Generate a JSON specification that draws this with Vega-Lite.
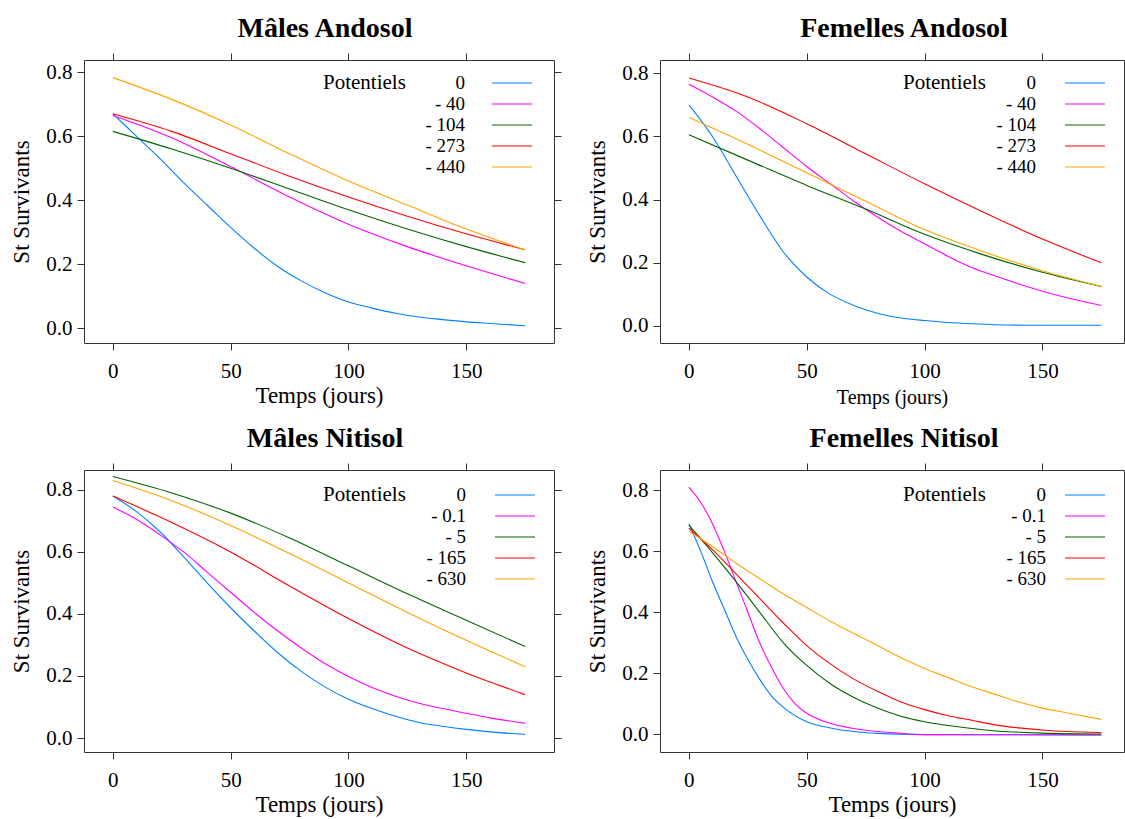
{
"$schema": "https://vega.github.io/schema/vega-lite/v6.json",
"background": "white",
"padding": {"left": 10, "top": 14, "right": 0, "bottom": 0},
"config": {
  "view": {"stroke": "#333", "strokeWidth": 1},
  "font": "Liberation Serif",
  "axis": {"labelFont": "Liberation Serif", "labelFontSize": 21, "labelColor": "black", "titleFont": "Liberation Serif", "titleFontSize": 23, "titleFontWeight": "normal", "titleColor": "black", "domain": false, "grid": false, "tickColor": "#333", "tickSize": 7, "labelPadding": 10, "titlePadding": 3},
  "axisY": {"labelPadding": 5, "titlePadding": 12},
  "legend": {"orient": "none", "titleOrient": "left", "titleAnchor": "start", "titleBaseline": "top", "titleFont": "Liberation Serif", "titleFontSize": 21, "titleFontWeight": "normal", "titleColor": "black", "labelFont": "Liberation Serif", "labelFontSize": 19, "labelColor": "black", "labelAlign": "right", "labelBaseline": "middle", "symbolType": "M-2,0L2,0", "symbolSize": 400, "symbolOffset": 10, "symbolStrokeWidth": 1.2, "rowPadding": -1.8, "padding": 0},
  "title": {"font": "Liberation Serif", "fontSize": 28, "fontWeight": "bold", "color": "black", "offset": 10}
},
"datasets": {"d": [
{"panel":"MA","pot":"0","t":0,"s":0.67},{"panel":"MA","pot":"0","t":10,"s":0.6},{"panel":"MA","pot":"0","t":20,"s":0.53},{"panel":"MA","pot":"0","t":30,"s":0.455},{"panel":"MA","pot":"0","t":40,"s":0.385},{"panel":"MA","pot":"0","t":50,"s":0.315},{"panel":"MA","pot":"0","t":60,"s":0.25},{"panel":"MA","pot":"0","t":70,"s":0.193},{"panel":"MA","pot":"0","t":80,"s":0.148},{"panel":"MA","pot":"0","t":90,"s":0.111},{"panel":"MA","pot":"0","t":100,"s":0.082},{"panel":"MA","pot":"0","t":110,"s":0.063},{"panel":"MA","pot":"0","t":120,"s":0.047},{"panel":"MA","pot":"0","t":130,"s":0.035},{"panel":"MA","pot":"0","t":140,"s":0.027},{"panel":"MA","pot":"0","t":150,"s":0.02},{"panel":"MA","pot":"0","t":160,"s":0.015},{"panel":"MA","pot":"0","t":175,"s":0.008},
{"panel":"MA","pot":"- 40","t":0,"s":0.665},{"panel":"MA","pot":"- 40","t":25,"s":0.595},{"panel":"MA","pot":"- 40","t":50,"s":0.505},{"panel":"MA","pot":"- 40","t":75,"s":0.41},{"panel":"MA","pot":"- 40","t":100,"s":0.325},{"panel":"MA","pot":"- 40","t":125,"s":0.255},{"panel":"MA","pot":"- 40","t":150,"s":0.195},{"panel":"MA","pot":"- 40","t":175,"s":0.14},
{"panel":"MA","pot":"- 104","t":0,"s":0.615},{"panel":"MA","pot":"- 104","t":25,"s":0.56},{"panel":"MA","pot":"- 104","t":50,"s":0.5},{"panel":"MA","pot":"- 104","t":75,"s":0.435},{"panel":"MA","pot":"- 104","t":100,"s":0.37},{"panel":"MA","pot":"- 104","t":125,"s":0.31},{"panel":"MA","pot":"- 104","t":150,"s":0.255},{"panel":"MA","pot":"- 104","t":175,"s":0.205},
{"panel":"MA","pot":"- 273","t":0,"s":0.67},{"panel":"MA","pot":"- 273","t":25,"s":0.615},{"panel":"MA","pot":"- 273","t":50,"s":0.545},{"panel":"MA","pot":"- 273","t":75,"s":0.475},{"panel":"MA","pot":"- 273","t":100,"s":0.41},{"panel":"MA","pot":"- 273","t":125,"s":0.35},{"panel":"MA","pot":"- 273","t":150,"s":0.295},{"panel":"MA","pot":"- 273","t":175,"s":0.245},
{"panel":"MA","pot":"- 440","t":0,"s":0.783},{"panel":"MA","pot":"- 440","t":25,"s":0.715},{"panel":"MA","pot":"- 440","t":50,"s":0.635},{"panel":"MA","pot":"- 440","t":75,"s":0.545},{"panel":"MA","pot":"- 440","t":100,"s":0.46},{"panel":"MA","pot":"- 440","t":125,"s":0.385},{"panel":"MA","pot":"- 440","t":150,"s":0.31},{"panel":"MA","pot":"- 440","t":175,"s":0.245},

{"panel":"FA","pot":"0","t":0,"s":0.7},{"panel":"FA","pot":"0","t":10,"s":0.6},{"panel":"FA","pot":"0","t":20,"s":0.475},{"panel":"FA","pot":"0","t":30,"s":0.35},{"panel":"FA","pot":"0","t":40,"s":0.235},{"panel":"FA","pot":"0","t":50,"s":0.155},{"panel":"FA","pot":"0","t":60,"s":0.1},{"panel":"FA","pot":"0","t":70,"s":0.065},{"panel":"FA","pot":"0","t":80,"s":0.04},{"panel":"FA","pot":"0","t":90,"s":0.025},{"panel":"FA","pot":"0","t":100,"s":0.017},{"panel":"FA","pot":"0","t":110,"s":0.011},{"panel":"FA","pot":"0","t":120,"s":0.007},{"panel":"FA","pot":"0","t":130,"s":0.004},{"panel":"FA","pot":"0","t":150,"s":0.002},{"panel":"FA","pot":"0","t":175,"s":0.002},
{"panel":"FA","pot":"- 40","t":0,"s":0.765},{"panel":"FA","pot":"- 40","t":10,"s":0.725},{"panel":"FA","pot":"- 40","t":20,"s":0.68},{"panel":"FA","pot":"- 40","t":30,"s":0.625},{"panel":"FA","pot":"- 40","t":40,"s":0.565},{"panel":"FA","pot":"- 40","t":50,"s":0.505},{"panel":"FA","pot":"- 40","t":60,"s":0.45},{"panel":"FA","pot":"- 40","t":70,"s":0.395},{"panel":"FA","pot":"- 40","t":80,"s":0.345},{"panel":"FA","pot":"- 40","t":90,"s":0.3},{"panel":"FA","pot":"- 40","t":100,"s":0.26},{"panel":"FA","pot":"- 40","t":110,"s":0.22},{"panel":"FA","pot":"- 40","t":120,"s":0.185},{"panel":"FA","pot":"- 40","t":130,"s":0.158},{"panel":"FA","pot":"- 40","t":140,"s":0.133},{"panel":"FA","pot":"- 40","t":150,"s":0.11},{"panel":"FA","pot":"- 40","t":160,"s":0.09},{"panel":"FA","pot":"- 40","t":175,"s":0.065},
{"panel":"FA","pot":"- 104","t":0,"s":0.605},{"panel":"FA","pot":"- 104","t":25,"s":0.525},{"panel":"FA","pot":"- 104","t":50,"s":0.445},{"panel":"FA","pot":"- 104","t":75,"s":0.37},{"panel":"FA","pot":"- 104","t":100,"s":0.29},{"panel":"FA","pot":"- 104","t":125,"s":0.225},{"panel":"FA","pot":"- 104","t":150,"s":0.17},{"panel":"FA","pot":"- 104","t":175,"s":0.125},
{"panel":"FA","pot":"- 273","t":0,"s":0.785},{"panel":"FA","pot":"- 273","t":25,"s":0.725},{"panel":"FA","pot":"- 273","t":50,"s":0.64},{"panel":"FA","pot":"- 273","t":75,"s":0.545},{"panel":"FA","pot":"- 273","t":100,"s":0.45},{"panel":"FA","pot":"- 273","t":125,"s":0.36},{"panel":"FA","pot":"- 273","t":150,"s":0.275},{"panel":"FA","pot":"- 273","t":175,"s":0.2},
{"panel":"FA","pot":"- 440","t":0,"s":0.66},{"panel":"FA","pot":"- 440","t":25,"s":0.575},{"panel":"FA","pot":"- 440","t":50,"s":0.485},{"panel":"FA","pot":"- 440","t":75,"s":0.395},{"panel":"FA","pot":"- 440","t":100,"s":0.305},{"panel":"FA","pot":"- 440","t":125,"s":0.235},{"panel":"FA","pot":"- 440","t":150,"s":0.175},{"panel":"FA","pot":"- 440","t":175,"s":0.125},

{"panel":"MN","pot":"0","t":0,"s":0.78},{"panel":"MN","pot":"0","t":10,"s":0.73},{"panel":"MN","pot":"0","t":20,"s":0.665},{"panel":"MN","pot":"0","t":30,"s":0.585},{"panel":"MN","pot":"0","t":40,"s":0.5},{"panel":"MN","pot":"0","t":50,"s":0.42},{"panel":"MN","pot":"0","t":60,"s":0.345},{"panel":"MN","pot":"0","t":70,"s":0.275},{"panel":"MN","pot":"0","t":80,"s":0.215},{"panel":"MN","pot":"0","t":90,"s":0.165},{"panel":"MN","pot":"0","t":100,"s":0.125},{"panel":"MN","pot":"0","t":110,"s":0.095},{"panel":"MN","pot":"0","t":120,"s":0.07},{"panel":"MN","pot":"0","t":130,"s":0.05},{"panel":"MN","pot":"0","t":140,"s":0.038},{"panel":"MN","pot":"0","t":150,"s":0.028},{"panel":"MN","pot":"0","t":160,"s":0.02},{"panel":"MN","pot":"0","t":175,"s":0.012},
{"panel":"MN","pot":"- 0.1","t":0,"s":0.745},{"panel":"MN","pot":"- 0.1","t":10,"s":0.705},{"panel":"MN","pot":"- 0.1","t":20,"s":0.655},{"panel":"MN","pot":"- 0.1","t":30,"s":0.6},{"panel":"MN","pot":"- 0.1","t":40,"s":0.535},{"panel":"MN","pot":"- 0.1","t":50,"s":0.47},{"panel":"MN","pot":"- 0.1","t":60,"s":0.405},{"panel":"MN","pot":"- 0.1","t":70,"s":0.345},{"panel":"MN","pot":"- 0.1","t":80,"s":0.29},{"panel":"MN","pot":"- 0.1","t":90,"s":0.24},{"panel":"MN","pot":"- 0.1","t":100,"s":0.198},{"panel":"MN","pot":"- 0.1","t":110,"s":0.163},{"panel":"MN","pot":"- 0.1","t":120,"s":0.135},{"panel":"MN","pot":"- 0.1","t":130,"s":0.112},{"panel":"MN","pot":"- 0.1","t":140,"s":0.095},{"panel":"MN","pot":"- 0.1","t":150,"s":0.08},{"panel":"MN","pot":"- 0.1","t":160,"s":0.065},{"panel":"MN","pot":"- 0.1","t":175,"s":0.048},
{"panel":"MN","pot":"- 5","t":0,"s":0.843},{"panel":"MN","pot":"- 5","t":25,"s":0.79},{"panel":"MN","pot":"- 5","t":50,"s":0.725},{"panel":"MN","pot":"- 5","t":75,"s":0.645},{"panel":"MN","pot":"- 5","t":100,"s":0.555},{"panel":"MN","pot":"- 5","t":125,"s":0.465},{"panel":"MN","pot":"- 5","t":150,"s":0.38},{"panel":"MN","pot":"- 5","t":175,"s":0.295},
{"panel":"MN","pot":"- 165","t":0,"s":0.78},{"panel":"MN","pot":"- 165","t":25,"s":0.695},{"panel":"MN","pot":"- 165","t":50,"s":0.6},{"panel":"MN","pot":"- 165","t":75,"s":0.49},{"panel":"MN","pot":"- 165","t":100,"s":0.385},{"panel":"MN","pot":"- 165","t":125,"s":0.29},{"panel":"MN","pot":"- 165","t":150,"s":0.21},{"panel":"MN","pot":"- 165","t":175,"s":0.14},
{"panel":"MN","pot":"- 630","t":0,"s":0.83},{"panel":"MN","pot":"- 630","t":25,"s":0.765},{"panel":"MN","pot":"- 630","t":50,"s":0.685},{"panel":"MN","pot":"- 630","t":75,"s":0.595},{"panel":"MN","pot":"- 630","t":100,"s":0.5},{"panel":"MN","pot":"- 630","t":125,"s":0.405},{"panel":"MN","pot":"- 630","t":150,"s":0.315},{"panel":"MN","pot":"- 630","t":175,"s":0.23},

{"panel":"FN","pot":"0","t":0,"s":0.69},{"panel":"FN","pot":"0","t":5,"s":0.6},{"panel":"FN","pot":"0","t":10,"s":0.5},{"panel":"FN","pot":"0","t":15,"s":0.41},{"panel":"FN","pot":"0","t":20,"s":0.32},{"panel":"FN","pot":"0","t":25,"s":0.245},{"panel":"FN","pot":"0","t":30,"s":0.18},{"panel":"FN","pot":"0","t":35,"s":0.125},{"panel":"FN","pot":"0","t":40,"s":0.088},{"panel":"FN","pot":"0","t":50,"s":0.04},{"panel":"FN","pot":"0","t":60,"s":0.02},{"panel":"FN","pot":"0","t":70,"s":0.008},{"panel":"FN","pot":"0","t":80,"s":0.002},{"panel":"FN","pot":"0","t":100,"s":-0.002},{"panel":"FN","pot":"0","t":175,"s":-0.003},
{"panel":"FN","pot":"- 0.1","t":0,"s":0.81},{"panel":"FN","pot":"- 0.1","t":5,"s":0.76},{"panel":"FN","pot":"- 0.1","t":10,"s":0.69},{"panel":"FN","pot":"- 0.1","t":15,"s":0.6},{"panel":"FN","pot":"- 0.1","t":20,"s":0.5},{"panel":"FN","pot":"- 0.1","t":25,"s":0.4},{"panel":"FN","pot":"- 0.1","t":30,"s":0.3},{"panel":"FN","pot":"- 0.1","t":35,"s":0.22},{"panel":"FN","pot":"- 0.1","t":40,"s":0.15},{"panel":"FN","pot":"- 0.1","t":45,"s":0.1},{"panel":"FN","pot":"- 0.1","t":50,"s":0.068},{"panel":"FN","pot":"- 0.1","t":60,"s":0.035},{"panel":"FN","pot":"- 0.1","t":70,"s":0.018},{"panel":"FN","pot":"- 0.1","t":80,"s":0.008},{"panel":"FN","pot":"- 0.1","t":90,"s":0.002},{"panel":"FN","pot":"- 0.1","t":100,"s":-0.002},{"panel":"FN","pot":"- 0.1","t":175,"s":-0.003},
{"panel":"FN","pot":"- 5","t":0,"s":0.685},{"panel":"FN","pot":"- 5","t":10,"s":0.595},{"panel":"FN","pot":"- 5","t":20,"s":0.5},{"panel":"FN","pot":"- 5","t":30,"s":0.4},{"panel":"FN","pot":"- 5","t":40,"s":0.3},{"panel":"FN","pot":"- 5","t":50,"s":0.225},{"panel":"FN","pot":"- 5","t":60,"s":0.165},{"panel":"FN","pot":"- 5","t":70,"s":0.12},{"panel":"FN","pot":"- 5","t":80,"s":0.085},{"panel":"FN","pot":"- 5","t":90,"s":0.058},{"panel":"FN","pot":"- 5","t":100,"s":0.04},{"panel":"FN","pot":"- 5","t":110,"s":0.028},{"panel":"FN","pot":"- 5","t":120,"s":0.018},{"panel":"FN","pot":"- 5","t":130,"s":0.01},{"panel":"FN","pot":"- 5","t":140,"s":0.006},{"panel":"FN","pot":"- 5","t":150,"s":0.003},{"panel":"FN","pot":"- 5","t":175,"s":0.0},
{"panel":"FN","pot":"- 165","t":0,"s":0.675},{"panel":"FN","pot":"- 165","t":10,"s":0.605},{"panel":"FN","pot":"- 165","t":20,"s":0.525},{"panel":"FN","pot":"- 165","t":30,"s":0.445},{"panel":"FN","pot":"- 165","t":40,"s":0.365},{"panel":"FN","pot":"- 165","t":50,"s":0.29},{"panel":"FN","pot":"- 165","t":60,"s":0.23},{"panel":"FN","pot":"- 165","t":70,"s":0.18},{"panel":"FN","pot":"- 165","t":80,"s":0.14},{"panel":"FN","pot":"- 165","t":90,"s":0.105},{"panel":"FN","pot":"- 165","t":100,"s":0.08},{"panel":"FN","pot":"- 165","t":110,"s":0.06},{"panel":"FN","pot":"- 165","t":120,"s":0.045},{"panel":"FN","pot":"- 165","t":130,"s":0.03},{"panel":"FN","pot":"- 165","t":140,"s":0.02},{"panel":"FN","pot":"- 165","t":150,"s":0.013},{"panel":"FN","pot":"- 165","t":160,"s":0.008},{"panel":"FN","pot":"- 165","t":175,"s":0.005},
{"panel":"FN","pot":"- 630","t":0,"s":0.665},{"panel":"FN","pot":"- 630","t":10,"s":0.615},{"panel":"FN","pot":"- 630","t":20,"s":0.56},{"panel":"FN","pot":"- 630","t":30,"s":0.51},{"panel":"FN","pot":"- 630","t":40,"s":0.46},{"panel":"FN","pot":"- 630","t":50,"s":0.415},{"panel":"FN","pot":"- 630","t":60,"s":0.37},{"panel":"FN","pot":"- 630","t":70,"s":0.33},{"panel":"FN","pot":"- 630","t":80,"s":0.29},{"panel":"FN","pot":"- 630","t":90,"s":0.25},{"panel":"FN","pot":"- 630","t":100,"s":0.215},{"panel":"FN","pot":"- 630","t":110,"s":0.185},{"panel":"FN","pot":"- 630","t":120,"s":0.155},{"panel":"FN","pot":"- 630","t":130,"s":0.13},{"panel":"FN","pot":"- 630","t":140,"s":0.105},{"panel":"FN","pot":"- 630","t":150,"s":0.085},{"panel":"FN","pot":"- 630","t":160,"s":0.07},{"panel":"FN","pot":"- 630","t":175,"s":0.048}
]},
"data": {"name": "d"},
"columns": 2,
"bounds": "flush",
"spacing": {"row": 127, "column": 106},
"resolve": {"scale": {"color": "independent", "x": "independent", "y": "independent"}, "legend": {"color": "independent"}},
"concat": [
 {
  "title": {"text": "Mâles Andosol", "dx": 6},
  "width": 470, "height": 283,
  "transform": [{"filter": "datum.panel === 'MA'"}],
  "layer": [
   {"mark": {"type": "line", "strokeWidth": 1.1, "interpolate": "monotone"},
    "encoding": {
     "x": {"field": "t", "type": "quantitative", "scale": {"domain": [-12.25, 187.25], "nice": false, "zero": false}, "axis": {"values": [0, 50, 100, 150], "title": "Temps (jours)"}},
     "y": {"field": "s", "type": "quantitative", "scale": {"domain": [-0.046, 0.838], "nice": false, "zero": false}, "axis": {"values": [0, 0.2, 0.4, 0.6, 0.8], "format": ".1f", "title": "St Survivants"}},
     "color": {"field": "pot", "type": "nominal", "scale": {"domain": ["0", "- 40", "- 104", "- 273", "- 440"], "range": ["#0080ff", "#ff00ff", "#006400", "#ff0000", "#ffa500"]},
       "legend": {"title": "Potentiels", "legendX": 239, "legendY": 12, "titlePadding": 85, "labelOffset": -58}}
    }},
   {"mark": {"type": "line", "opacity": 0},
    "encoding": {
     "x": {"field": "t", "type": "quantitative", "scale": {"domain": [-12.25, 187.25], "nice": false, "zero": false}, "axis": {"orient": "top", "values": [0, 50, 100, 150], "labels": false, "title": null}},
     "y": {"field": "s", "type": "quantitative", "scale": {"domain": [-0.046, 0.838], "nice": false, "zero": false}, "axis": {"orient": "right", "values": [0, 0.2, 0.4, 0.6, 0.8], "labels": false, "title": null}},
     "detail": {"field": "pot"}
    }}
  ],
  "resolve": {"axis": {"x": "independent", "y": "independent"}}
 },
 {
  "title": {"text": "Femelles Andosol", "dx": 12},
  "width": 464, "height": 283,
  "transform": [{"filter": "datum.panel === 'FA'"}],
  "layer": [
   {"mark": {"type": "line", "strokeWidth": 1.1, "interpolate": "monotone"},
    "encoding": {
     "x": {"field": "t", "type": "quantitative", "scale": {"domain": [-12.25, 184.6], "nice": false, "zero": false}, "axis": {"values": [0, 50, 100, 150], "title": "Temps (jours)", "titleFontSize": 20, "titlePadding": 6}},
     "y": {"field": "s", "type": "quantitative", "scale": {"domain": [-0.054, 0.842], "nice": false, "zero": false}, "axis": {"values": [0, 0.2, 0.4, 0.6, 0.8], "format": ".1f", "title": "St Survivants"}},
     "color": {"field": "pot", "type": "nominal", "scale": {"domain": ["0", "- 40", "- 104", "- 273", "- 440"], "range": ["#0080ff", "#ff00ff", "#006400", "#ff0000", "#ffa500"]},
       "legend": {"title": "Potentiels", "legendX": 243, "legendY": 12, "titlePadding": 78, "labelOffset": -60}}
    }},
   {"mark": {"type": "line", "opacity": 0},
    "encoding": {
     "x": {"field": "t", "type": "quantitative", "scale": {"domain": [-12.25, 184.6], "nice": false, "zero": false}, "axis": {"orient": "top", "values": [0, 50, 100, 150], "labels": false, "title": null}},
     "y": {"field": "s", "type": "quantitative", "scale": {"domain": [-0.054, 0.842], "nice": false, "zero": false}, "axis": {"orient": "right", "values": [0, 0.2, 0.4, 0.6, 0.8], "labels": false, "title": null}},
     "detail": {"field": "pot"}
    }}
  ],
  "resolve": {"axis": {"x": "independent", "y": "independent"}}
 },
 {
  "title": {"text": "Mâles Nitisol", "dx": 6},
  "width": 470, "height": 282,
  "transform": [{"filter": "datum.panel === 'MN'"}],
  "layer": [
   {"mark": {"type": "line", "strokeWidth": 1.1, "interpolate": "monotone"},
    "encoding": {
     "x": {"field": "t", "type": "quantitative", "scale": {"domain": [-12.25, 187.25], "nice": false, "zero": false}, "axis": {"values": [0, 50, 100, 150], "title": "Temps (jours)"}},
     "y": {"field": "s", "type": "quantitative", "scale": {"domain": [-0.045, 0.864], "nice": false, "zero": false}, "axis": {"values": [0, 0.2, 0.4, 0.6, 0.8], "format": ".1f", "title": "St Survivants"}},
     "color": {"field": "pot", "type": "nominal", "scale": {"domain": ["0", "- 0.1", "- 5", "- 165", "- 630"], "range": ["#0080ff", "#ff00ff", "#006400", "#ff0000", "#ffa500"]},
       "legend": {"title": "Potentiels", "legendX": 239, "legendY": 14, "titlePadding": 88, "labelOffset": -60}}
    }},
   {"mark": {"type": "line", "opacity": 0},
    "encoding": {
     "x": {"field": "t", "type": "quantitative", "scale": {"domain": [-12.25, 187.25], "nice": false, "zero": false}, "axis": {"orient": "top", "values": [0, 50, 100, 150], "labels": false, "title": null}},
     "y": {"field": "s", "type": "quantitative", "scale": {"domain": [-0.045, 0.864], "nice": false, "zero": false}, "axis": {"orient": "right", "values": [0, 0.2, 0.4, 0.6, 0.8], "labels": false, "title": null}},
     "detail": {"field": "pot"}
    }}
  ],
  "resolve": {"axis": {"x": "independent", "y": "independent"}}
 },
 {
  "title": {"text": "Femelles Nitisol", "dx": 12},
  "width": 464, "height": 282,
  "transform": [{"filter": "datum.panel === 'FN'"}],
  "layer": [
   {"mark": {"type": "line", "strokeWidth": 1.1, "interpolate": "monotone"},
    "encoding": {
     "x": {"field": "t", "type": "quantitative", "scale": {"domain": [-12.25, 184.6], "nice": false, "zero": false}, "axis": {"values": [0, 50, 100, 150], "title": "Temps (jours)"}},
     "y": {"field": "s", "type": "quantitative", "scale": {"domain": [-0.059, 0.866], "nice": false, "zero": false}, "axis": {"values": [0, 0.2, 0.4, 0.6, 0.8], "format": ".1f", "title": "St Survivants"}},
     "color": {"field": "pot", "type": "nominal", "scale": {"domain": ["0", "- 0.1", "- 5", "- 165", "- 630"], "range": ["#0080ff", "#ff00ff", "#006400", "#ff0000", "#ffa500"]},
       "legend": {"title": "Potentiels", "legendX": 243, "legendY": 14, "titlePadding": 78, "labelOffset": -50}}
    }},
   {"mark": {"type": "line", "opacity": 0},
    "encoding": {
     "x": {"field": "t", "type": "quantitative", "scale": {"domain": [-12.25, 184.6], "nice": false, "zero": false}, "axis": {"orient": "top", "values": [0, 50, 100, 150], "labels": false, "title": null}},
     "y": {"field": "s", "type": "quantitative", "scale": {"domain": [-0.059, 0.866], "nice": false, "zero": false}, "axis": {"orient": "right", "values": [0, 0.2, 0.4, 0.6, 0.8], "labels": false, "title": null}},
     "detail": {"field": "pot"}
    }}
  ],
  "resolve": {"axis": {"x": "independent", "y": "independent"}}
 }
]
}
